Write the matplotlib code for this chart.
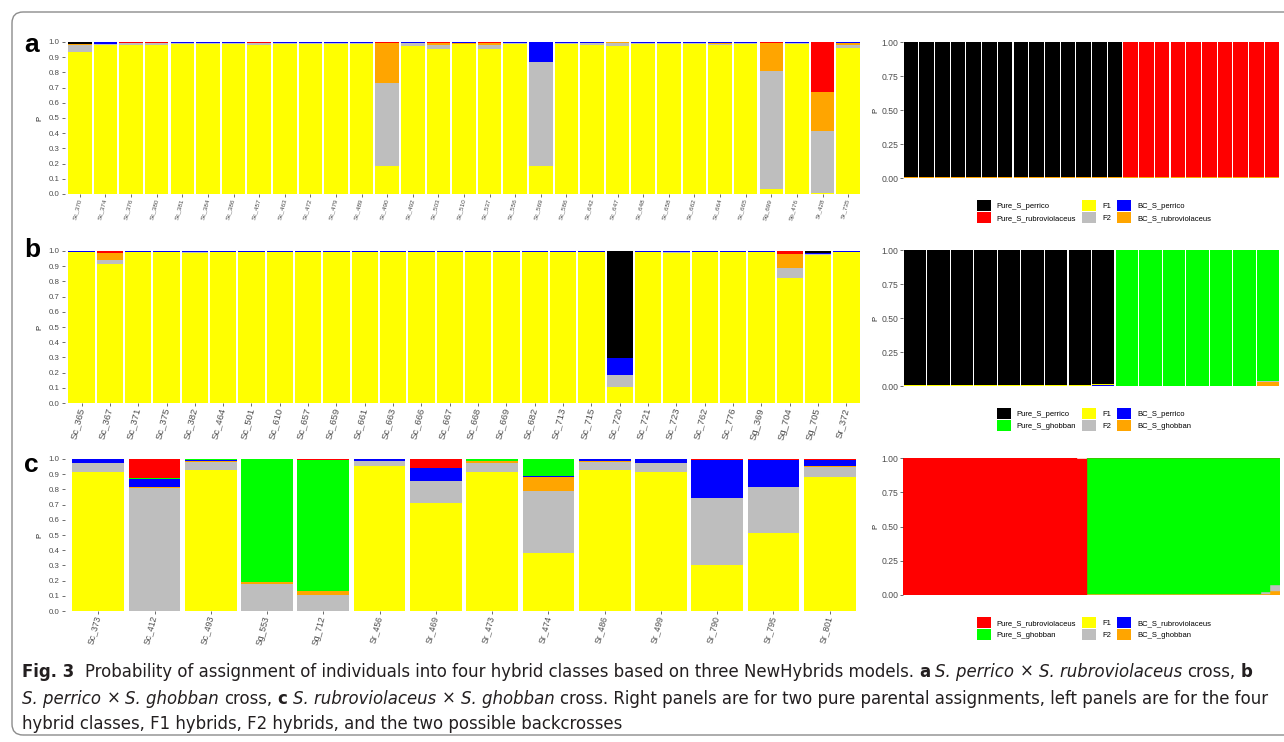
import numpy as np
import matplotlib.pyplot as plt
from matplotlib import font_manager
from matplotlib.patches import Patch, FancyBboxPatch
from matplotlib.transforms import IdentityTransform

W, H = 1284, 742
plt.rcParams['font.family'] = ['Liberation Sans', 'DejaVu Sans']

# ---- colours
YEL, GRY, ORA, BLU, RED, BLK, GRN = '#FFFF00', '#BEBEBE', '#FFA500', '#0000FF', '#FF0000', '#000000', '#00FF00'

# ---- panel a (left): F1, F2, BC (orange), BC (blue), pure (red), pure (black)
a_names = ['Sc_370', 'Sc_374', 'Sc_376', 'Sc_380', 'Sc_381', 'Sc_384', 'Sc_386', 'Sc_457', 'Sc_463', 'Sc_472',
           'Sc_479', 'Sc_489', 'Sc_490', 'Sc_492', 'Sc_503', 'Sc_510', 'Sc_537', 'Sc_556', 'Sc_569', 'Sc_586',
           'Sc_642', 'Sc_647', 'Sc_648', 'Sc_658', 'Sc_662', 'Sc_664', 'Sc_665', 'Sg_699', 'Sp_476', 'Sr_428', 'Sr_735']
a_f1 = [0.934, 0.983, 0.977, 0.977, 0.985, 0.984, 0.985, 0.977, 0.984, 0.984, 0.985, 0.985, 0.185, 0.971, 0.952, 0.985,
        0.952, 0.985, 0.181, 0.985, 0.983, 0.971, 0.985, 0.985, 0.985, 0.978, 0.985, 0.033, 0.985, 0.007, 0.958]
a_f2 = [0.046, 0.007, 0.015, 0.015, 0.006, 0.008, 0.006, 0.015, 0.008, 0.008, 0.006, 0.006, 0.544, 0.022, 0.028, 0.004,
        0.026, 0.006, 0.685, 0.006, 0.008, 0.020, 0.006, 0.006, 0.006, 0.012, 0.006, 0.773, 0.006, 0.409, 0.024]
a_bc2 = [0.005, 0, 0.004, 0.004, 0, 0, 0, 0.004, 0, 0, 0, 0, 0.266, 0, 0.013, 0.004,
         0.015, 0, 0, 0, 0, 0.006, 0, 0, 0, 0.004, 0, 0.190, 0, 0.254, 0.013]
a_bc1 = [0.005, 0.007, 0, 0, 0.006, 0.006, 0.006, 0, 0.006, 0.006, 0.006, 0.006, 0, 0.005, 0, 0.005,
         0.003, 0.006, 0.132, 0.006, 0.006, 0, 0.006, 0.006, 0.006, 0.004, 0.006, 0, 0.006, 0, 0.005]
a_p2 = [0, 0, 0.004, 0.004, 0, 0, 0, 0.004, 0, 0, 0, 0, 0.005, 0, 0.007, 0,
        0.004, 0, 0, 0, 0, 0.003, 0, 0, 0, 0, 0, 0.004, 0, 0.330, 0]
a_p1 = [0.010, 0.003, 0, 0, 0.003, 0.002, 0.003, 0, 0.002, 0.002, 0.003, 0.003, 0, 0.002, 0, 0.002,
        0, 0.003, 0.002, 0.003, 0.003, 0, 0.003, 0.003, 0.003, 0.002, 0.003, 0, 0.003, 0, 0]

# ---- panel b (left)
b_names = ['Sc_365', 'Sc_367', 'Sc_371', 'Sc_375', 'Sc_382', 'Sc_464', 'Sc_501', 'Sc_610', 'Sc_657', 'Sc_659',
           'Sc_661', 'Sc_663', 'Sc_666', 'Sc_667', 'Sc_668', 'Sc_669', 'Sc_682', 'Sc_713', 'Sc_715', 'Sc_720',
           'Sc_721', 'Sc_723', 'Sc_762', 'Sc_776', 'Sg_369', 'Sg_704', 'Sg_705', 'Sr_372']
b_f1 = [0.993, 0.914, 0.993, 0.993, 0.987, 0.993, 0.993, 0.993, 0.993, 0.993, 0.993, 0.993, 0.993, 0.993,
        0.993, 0.993, 0.993, 0.993, 0.993, 0.105, 0.993, 0.987, 0.993, 0.993, 0.993, 0.825, 0.972, 0.993]
b_f2 = [0.001, 0.027, 0.001, 0.001, 0.004, 0.001, 0.001, 0.001, 0.001, 0.001, 0.001, 0.001, 0.001, 0.001,
        0.001, 0.001, 0.001, 0.001, 0.001, 0.079, 0.001, 0.004, 0.001, 0.001, 0.001, 0.065, 0.006, 0.001]
b_bc2 = [0, 0.049, 0, 0, 0, 0, 0, 0, 0, 0, 0, 0, 0, 0,
         0, 0, 0, 0, 0, 0, 0, 0, 0, 0, 0, 0.090, 0, 0]
b_bc1 = [0.004, 0, 0.004, 0.004, 0.006, 0.004, 0.004, 0.004, 0.004, 0.004, 0.004, 0.004, 0.004, 0.004,
         0.004, 0.004, 0.004, 0.004, 0.004, 0.112, 0.004, 0.006, 0.004, 0.004, 0.004, 0, 0.006, 0.004]
b_p2 = [0, 0.010, 0, 0, 0, 0, 0, 0, 0, 0, 0, 0, 0, 0,
        0, 0, 0, 0, 0, 0, 0, 0, 0, 0, 0, 0.020, 0, 0]
b_p1 = [0.002, 0, 0.002, 0.002, 0.003, 0.002, 0.002, 0.002, 0.002, 0.002, 0.002, 0.002, 0.002, 0.002,
        0.002, 0.002, 0.002, 0.002, 0.002, 0.704, 0.002, 0.003, 0.002, 0.002, 0.002, 0, 0.016, 0.002]

# ---- panel c (left): F1, F2, BC_ghobban, BC_rubro, pure ghobban, pure rubro
c_names = ['Sc_373', 'Sc_412', 'Sc_493', 'Sg_553', 'Sg_712', 'Sr_456', 'Sr_469', 'Sr_473', 'Sr_474', 'Sr_486',
           'Sr_499', 'Sr_790', 'Sr_795', 'Sr_801']
c_f1 = [0.914, 0.003, 0.928, 0.002, 0.0, 0.954, 0.711, 0.914, 0.382, 0.928, 0.914, 0.303, 0.513, 0.882]
c_f2 = [0.060, 0.808, 0.052, 0.178, 0.105, 0.031, 0.144, 0.060, 0.407, 0.050, 0.060, 0.440, 0.303, 0.065]
c_bc2 = [0, 0.007, 0.007, 0.013, 0.027, 0, 0, 0.011, 0.093, 0.009, 0, 0, 0, 0.009]
c_bc1 = [0.026, 0.050, 0.004, 0, 0, 0.015, 0.085, 0.005, 0.006, 0.013, 0.026, 0.248, 0.177, 0.035]
c_p2 = [0, 0.007, 0.009, 0.805, 0.861, 0, 0, 0.010, 0.112, 0, 0, 0.002, 0, 0]
c_p1 = [0, 0.125, 0, 0.002, 0.007, 0, 0.060, 0, 0, 0, 0, 0.007, 0.007, 0.009]

# ---- right panels (pure parental assignments)
ra_p1 = [0.996, 0.996, 0.996, 0.996, 0.996, 0.996, 0.996, 0.996, 0.996, 0.996, 0.996, 0.996, 0.996, 0.996,
         0, 0, 0, 0, 0, 0, 0, 0, 0, 0]
ra_p2 = [0, 0, 0, 0, 0, 0, 0, 0, 0, 0, 0, 0, 0, 0,
         0.996, 0.996, 0.996, 0.996, 0.996, 0.996, 0.996, 0.996, 0.996, 0.992]
ra_bc2 = [0.004, 0.004, 0.004, 0.004, 0.004, 0.004, 0.004, 0.004, 0.004, 0.004, 0.004, 0.004, 0.004, 0.004,
          0.004, 0.004, 0.004, 0.004, 0.004, 0.004, 0.004, 0.004, 0.004, 0.004]
ra_f2 = [0, 0, 0, 0, 0, 0, 0, 0, 0, 0, 0, 0, 0, 0,
         0, 0, 0, 0, 0, 0, 0, 0, 0, 0.004]

rb_p1 = [0.996, 0.996, 0.996, 0.996, 0.996, 0.996, 0.996, 0.996, 0.986, 0, 0, 0, 0, 0, 0, 0]
rb_p2 = [0, 0, 0, 0, 0, 0, 0, 0, 0, 0.998, 0.998, 0.998, 0.998, 0.998, 0.998, 0.960]
rb_f1 = [0.004, 0.004, 0.004, 0.004, 0.004, 0.004, 0.004, 0.004, 0.004, 0, 0, 0, 0, 0, 0, 0]
rb_bc1 = [0, 0, 0, 0, 0, 0, 0, 0, 0.010, 0, 0, 0, 0, 0, 0, 0]
rb_bc2 = [0, 0, 0, 0, 0, 0, 0, 0, 0, 0.002, 0.002, 0.002, 0.002, 0.002, 0.002, 0.030]
rb_f2 = [0, 0, 0, 0, 0, 0, 0, 0, 0, 0, 0, 0, 0, 0, 0, 0.010]

rc_p1 = [0.998, 0.998, 0.998, 0.998, 0.998, 0.998, 0.998, 0.998, 0.998, 0.998,
         0.998, 0.998, 0.998, 0.998, 0.998, 0.998, 0.998, 0.998, 0.993,
         0, 0, 0, 0, 0, 0, 0, 0, 0, 0, 0, 0, 0, 0, 0, 0, 0, 0, 0, 0]
rc_p2 = [0, 0, 0, 0, 0, 0, 0, 0, 0, 0, 0, 0, 0, 0, 0, 0, 0, 0, 0,
         0.995, 0.995, 0.995, 0.995, 0.995, 0.995, 0.995, 0.995, 0.995, 0.995,
         0.995, 0.995, 0.995, 0.995, 0.995, 0.995, 0.995, 0.995, 0.975, 0.930]
rc_bc2 = [0.002, 0.002, 0.002, 0.002, 0.002, 0.002, 0.002, 0.002, 0.002, 0.002,
          0.002, 0.002, 0.002, 0.002, 0.002, 0.002, 0.002, 0.002, 0.002,
          0.005, 0.005, 0.005, 0.005, 0.005, 0.005, 0.005, 0.005, 0.005, 0.005,
          0.005, 0.005, 0.005, 0.005, 0.005, 0.005, 0.005, 0.005, 0.005, 0.030]
rc_f2 = [0, 0, 0, 0, 0, 0, 0, 0, 0, 0, 0, 0, 0, 0, 0, 0, 0, 0, 0,
         0, 0, 0, 0, 0, 0, 0, 0, 0, 0, 0, 0, 0, 0, 0, 0, 0, 0, 0.020, 0.040]

fig = plt.figure(figsize=(W / 100, H / 100), dpi=100)


def add_ax(x0, y0, x1, y1):
    return fig.add_axes([x0 / W, 1 - y1 / H, (x1 - x0) / W, (y1 - y0) / H])


def style_ax(ax):
    for s in ax.spines.values():
        s.set_visible(False)
    ax.set_facecolor('white')
    ax.tick_params(length=2, width=0.5, color='#333333', pad=1.5, labelcolor='#4D4D4D')


def left_panel(ax, names, layers, colors, xsize):
    x = np.arange(len(names))
    bottom = np.zeros(len(names))
    for vals, col in zip(layers, colors):
        vals = np.array(vals, dtype=float)
        ax.bar(x, vals, width=0.92, bottom=bottom, color=col, linewidth=0)
        bottom += vals
    ax.set_xlim(-0.6, len(names) - 0.4)
    ax.set_ylim(0, 1)
    ticks = np.round(np.arange(0, 1.01, 0.1), 1)
    ax.set_yticks(ticks)
    ax.set_yticklabels([f'{t:.1f}' for t in ticks], fontsize=5.7)
    ax.set_xticks(x)
    ax.set_xticklabels(names, rotation=75, ha='right', va='center', rotation_mode='anchor', fontsize=xsize,
                       color='#6E6E6E')
    style_ax(ax)
    ax.set_ylabel('P', fontsize=5.5, color='#222222')
    ax.yaxis.set_label_coords(-0.026, 0.5)


def right_panel(ax, layers, colors, width, legend_items, legend_top):
    n = len(layers[0])
    x = np.arange(n)
    bottom = np.zeros(n)
    for vals, col in zip(layers, colors):
        vals = np.array(vals, dtype=float)
        if width >= 1:
            ax.bar(x, vals, width=1.0, bottom=bottom, color=col, edgecolor=col, linewidth=0.3)
        else:
            ax.bar(x, vals, width=width, bottom=bottom, color=col, linewidth=0)
        bottom += vals
    ax.set_xlim(-0.5, n - 0.5)
    ax.set_ylim(0, 1)
    ax.set_xticks([])
    ax.set_yticks([0, 0.25, 0.5, 0.75, 1.0])
    ax.set_yticklabels(['0.00', '0.25', '0.50', '0.75', '1.00'], fontsize=6.2)
    style_ax(ax)
    ax.set_ylabel('P', fontsize=5.5, color='#222222')
    ax.yaxis.set_label_coords(-0.062, 0.5)
    handles = [Patch(facecolor=c, edgecolor='none', label=l) for l, c in legend_items]
    fs = 5.5
    fpx = fs * 100 / 72
    ax.legend(handles=handles, ncol=3, loc='upper center', bbox_to_anchor=(1094 / W, 1 - legend_top / H),
              bbox_transform=fig.transFigure, frameon=False, fontsize=fs, handlelength=14 / fpx,
              handleheight=14 / fpx, labelspacing=0.13, handletextpad=0.8, columnspacing=0.8, borderpad=0,
              borderaxespad=0)


# left panels
ax = add_ax(64.5, 42, 863.5, 194)
left_panel(ax, a_names, [a_f1, a_f2, a_bc2, a_bc1, a_p2, a_p1], [YEL, GRY, ORA, BLU, RED, BLK], 4.6)
ax = add_ax(64.5, 251, 863.5, 403)
left_panel(ax, b_names, [b_f1, b_f2, b_bc2, b_bc1, b_p2, b_p1], [YEL, GRY, ORA, BLU, RED, BLK], 6.8)
ax = add_ax(64.5, 459, 863.5, 611)
left_panel(ax, c_names, [c_f1, c_f2, c_bc2, c_bc1, c_p2, c_p1], [YEL, GRY, ORA, BLU, GRN, RED], 6.2)

# right panels
ax = add_ax(903, 42, 1280, 178)
right_panel(ax, [ra_bc2, ra_f2, ra_p2, ra_p1], [ORA, GRY, RED, BLK], 0.93,
            [('Pure_S_perrico', BLK), ('Pure_S_rubroviolaceus', RED), ('F1', YEL), ('F2', GRY),
             ('BC_S_perrico', BLU), ('BC_S_rubroviolaceus', ORA)], 200)
ax = add_ax(903, 250, 1280, 386)
right_panel(ax, [rb_bc2, rb_bc1, rb_f1, rb_f2, rb_p2, rb_p1], [ORA, BLU, YEL, GRY, GRN, BLK], 0.95,
            [('Pure_S_perrico', BLK), ('Pure_S_ghobban', GRN), ('F1', YEL), ('F2', GRY),
             ('BC_S_perrico', BLU), ('BC_S_ghobban', ORA)], 408)
ax = add_ax(903, 458, 1280, 595)
right_panel(ax, [rc_bc2, rc_f2, rc_p2, rc_p1], [ORA, GRY, GRN, RED], 1.0,
            [('Pure_S_rubroviolaceus', RED), ('Pure_S_ghobban', GRN), ('F1', YEL), ('F2', GRY),
             ('BC_S_rubroviolaceus', BLU), ('BC_S_ghobban', ORA)], 617)

# panel letters
for letter, y in [('a', 52), ('b', 257), ('c', 472)]:
    fig.text(24 / W, 1 - y / H, letter, fontsize=19, fontweight='bold', va='baseline', ha='left')

# rounded frame
frame = FancyBboxPatch((12, 7), 1320, 723, boxstyle='round,pad=0,rounding_size=11',
                       transform=IdentityTransform(), facecolor='none', edgecolor='#8C8C8C', linewidth=1.0)
fig.patches.append(frame)

# caption font: prefer a narrow face
fonts = font_manager.fontManager.ttflist
names_avail = {f.name for f in fonts}
if 'Liberation Sans Narrow' in names_avail:
    CAP = {'family': 'Liberation Sans Narrow'}
elif any(f.name == 'DejaVu Sans' and 'condensed' in str(f.stretch) for f in fonts):
    CAP = {'family': 'DejaVu Sans', 'fontstretch': 'condensed'}
else:
    CAP = {'family': 'Liberation Sans'}

line1 = [('Fig. 3', 'b', 0), ('Probability of assignment of individuals into four hybrid classes based on three NewHybrids models.', 'n', 2),
         ('a', 'b', 1), ('S. perrico', 'i', 1), ('×', 'n', 1), ('S. rubroviolaceus', 'i', 1), ('cross,', 'n', 1), ('b', 'b', 1)]
line2 = [('S. perrico', 'i', 0), ('×', 'n', 1), ('S. ghobban', 'i', 1), ('cross,', 'n', 1), ('c', 'b', 1),
         ('S. rubroviolaceus', 'i', 1), ('×', 'n', 1), ('S. ghobban', 'i', 1),
         ('cross. Right panels are for two pure parental assignments, left panels are for the four', 'n', 1)]
line3 = [('hybrid classes, F1 hybrids, F2 hybrids, and the two possible backcrosses', 'n', 0)]

renderer = fig.canvas.get_renderer()


def make_text(x, y, s, style, size):
    kw = dict(CAP)
    if style == 'b':
        kw['fontweight'] = 'bold'
    if style == 'i':
        kw['fontstyle'] = 'italic'
    return fig.text(x / W, 1 - y / H, s, fontsize=size, va='baseline', ha='left', color='#231F20', **kw)


def line_width(pieces, size, draw=False, x0=22, y=0):
    probe = make_text(0, 0, 'x x', 'n', size)
    w2 = probe.get_window_extent(renderer).width
    probe.set_text('xx')
    space = w2 - probe.get_window_extent(renderer).width
    probe.remove()
    x = x0
    for s, style, nsp in pieces:
        x += nsp * space
        t = make_text(x, y, s, style, size)
        x += t.get_window_extent(renderer).width
        if not draw:
            t.remove()
    return x - x0


size = 12.0
size = size * 1246 / line_width(line2, size)
line_width(line1, size, True, 22, 677)
line_width(line2, size, True, 22, 704)
line_width(line3, size, True, 22, 729)

fig.savefig('out.png', dpi=100)
